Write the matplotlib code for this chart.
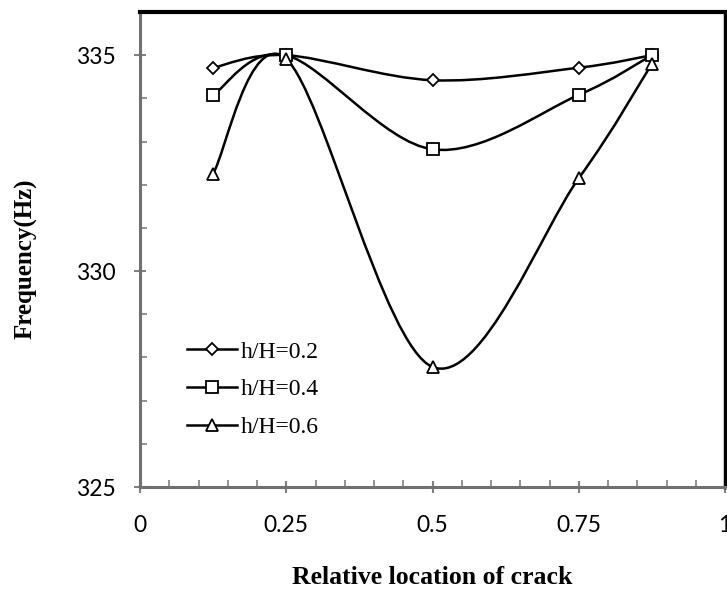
import matplotlib
matplotlib.use("Agg")
import matplotlib.pyplot as plt
from matplotlib.path import Path
from matplotlib.patches import PathPatch
from matplotlib.lines import Line2D
from matplotlib.ticker import MultipleLocator

# data
crack_loc = [0.125, 0.25, 0.5, 0.75, 0.875]
freq_02 = [334.71, 335.0, 334.42, 334.71, 335.0]
freq_04 = [334.08, 335.0, 332.82, 334.08, 335.0]
freq_06 = [332.26, 334.91, 327.78, 332.15, 334.80]
labels = ["h/H=0.2", "h/H=0.4", "h/H=0.6"]
xtick_vals = [0, 0.25, 0.5, 0.75, 1]
xtick_text = ["0", "0.25", "0.5", "0.75", "1"]
ytick_vals = [325, 330, 335]
markers = ["D", "s", "^"]
msizes = [6, 8, 8]

serif = "Liberation Serif"
sans = "Lato"


def smooth_path(xs, ys):
    # Excel-like smoothed line: Catmull-Rom as cubic Bezier segments
    pts = list(zip(xs, ys))
    n = len(pts)
    verts = [pts[0]]
    codes = [Path.MOVETO]
    for i in range(n - 1):
        p0 = pts[i - 1] if i > 0 else pts[i]
        p1 = pts[i]
        p2 = pts[i + 1]
        p3 = pts[i + 2] if i + 2 < n else pts[i + 1]
        c1 = (p1[0] + (p2[0] - p0[0]) / 6, p1[1] + (p2[1] - p0[1]) / 6)
        c2 = (p2[0] - (p3[0] - p1[0]) / 6, p2[1] - (p3[1] - p1[1]) / 6)
        verts += [c1, c2, p2]
        codes += [Path.CURVE4] * 3
    return Path(verts, codes)


fig = plt.figure(figsize=(7.27, 5.89), dpi=100)
ax = fig.add_axes([140 / 727, 1 - 487 / 589, 585 / 727, 475 / 589])

handles = []
for ys, lab, mk, ms in zip([freq_02, freq_04, freq_06], labels, markers, msizes):
    patch = PathPatch(smooth_path(crack_loc, ys), facecolor="none",
                      edgecolor="black", lw=1.8, zorder=2)
    ax.add_patch(patch)
    ax.plot(crack_loc, ys, linestyle="none", marker=mk, markersize=ms,
            markerfacecolor="white", markeredgecolor="black",
            markeredgewidth=1.3, zorder=3)
    handles.append(Line2D([], [], color="black", lw=1.8, marker=mk,
                          markersize=ms, markerfacecolor="white",
                          markeredgecolor="black", markeredgewidth=1.3))

ax.set_xlim(0, 1)
ax.set_ylim(325, 336)
ax.xaxis.set_minor_locator(MultipleLocator(0.05))
ax.yaxis.set_minor_locator(MultipleLocator(1))
ax.set_xticks(xtick_vals)
ax.set_xticklabels(xtick_text, fontfamily=sans, fontsize=16.5)
ax.set_yticks(ytick_vals)
ax.set_yticklabels([str(v) for v in ytick_vals], fontfamily=sans, fontsize=16.5)

ax.tick_params(which="major", direction="inout", length=9, width=1.5,
               color="#808080")
ax.tick_params(axis="x", which="major", pad=16)
ax.tick_params(axis="y", which="major", pad=13)
ax.tick_params(which="minor", direction="in", length=5, width=1.2, color="#808080")

for side in ["left", "bottom"]:
    ax.spines[side].set_color("#707070")
    ax.spines[side].set_linewidth(2.2)
ax.spines["top"].set_color("black")
ax.spines["top"].set_linewidth(3)
ax.spines["right"].set_color("black")
ax.spines["right"].set_linewidth(2.5)

ax.set_xlabel("Relative location of crack", fontfamily=serif, fontweight="bold",
              fontsize=18.5, labelpad=21)
ax.set_ylabel("Frequency(Hz)", fontfamily=serif, fontweight="bold", fontsize=18)
ax.yaxis.set_label_coords(-0.175, 0.48)

ax.legend(handles, labels, loc="upper left", bbox_to_anchor=(0.061, 0.332),
          frameon=False, borderpad=0, handlelength=2.1, handletextpad=0.15,
          labelspacing=0.68, prop={"family": serif, "size": 17})

fig.savefig("out.png", dpi=100)
